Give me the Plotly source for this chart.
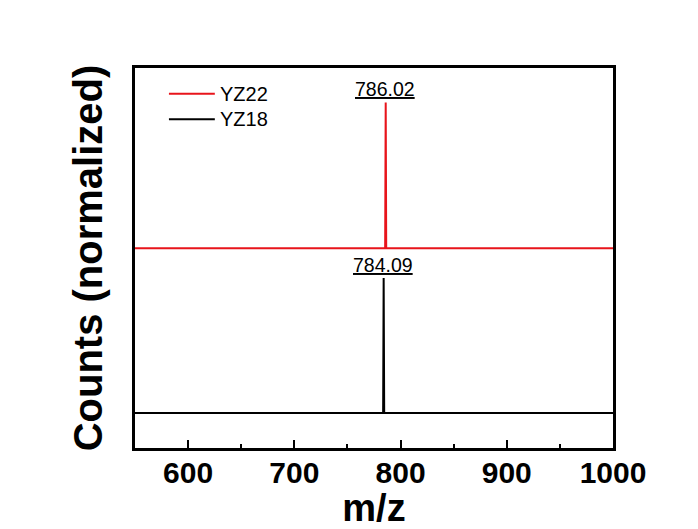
import plotly.graph_objects as go

# Spectrum data (m/z, normalized counts)
mz_min, mz_max = 550, 1000
yz18_mz = [550, 783.6, 784.09, 784.6, 1000]
yz18_counts = [0, 0, 1.0, 0, 0]
yz22_mz = [550, 785.5, 786.02, 786.5, 1000]
yz22_counts = [0, 0, 1.08, 0, 0]
yz22_offset = 1.22

series_names = ["YZ22", "YZ18"]
series_colors = ["#e8141b", "#000000"]
peak_labels = ["786.02", "784.09"]

FONT = "Liberation Sans, Arial, sans-serif"

fig = go.Figure()
fig.add_trace(go.Scatter(
    x=yz18_mz, y=yz18_counts, mode="lines", name=series_names[1],
    line=dict(color=series_colors[1], width=2), showlegend=False))
fig.add_trace(go.Scatter(
    x=yz22_mz, y=[v + yz22_offset for v in yz22_counts], mode="lines",
    name=series_names[0], line=dict(color=series_colors[0], width=2),
    showlegend=False))

# peak value labels (underlined)
for mz, counts, off, lab in [(yz22_mz[2], yz22_counts[2], yz22_offset, peak_labels[0]),
                             (yz18_mz[2], yz18_counts[2], 0, peak_labels[1])]:
    fig.add_annotation(x=mz, y=counts + off, text=f"<u>{lab}</u>", showarrow=False,
                       yanchor="bottom", yshift=0, xshift=-1,
                       font=dict(family=FONT, size=19.5, color="#000"))

# legend drawn as line samples + labels
legend_y = [0.932, 0.865]
for name, color, ly in zip(series_names, series_colors, legend_y):
    fig.add_shape(type="line", xref="paper", yref="paper",
                  x0=0.071, x1=0.167, y0=ly, y1=ly,
                  line=dict(color=color, width=2))
    fig.add_annotation(xref="paper", yref="paper", x=0.174, y=ly, text=name,
                       showarrow=False, xanchor="left", yanchor="middle",
                       font=dict(family=FONT, size=20, color="#000"))

fig.update_layout(
    width=698, height=529,
    margin=dict(l=135, r=85, t=68, b=81),
    paper_bgcolor="white", plot_bgcolor="white",
    font=dict(family=FONT, color="#000"),
)
fig.update_xaxes(
    range=[mz_min, mz_max], tickvals=[600, 700, 800, 900, 1000],
    ticks="inside", ticklen=8, tickwidth=2, tickcolor="#000",
    minor=dict(ticks="inside", ticklen=4, tickwidth=2, tickcolor="#000",
               tickvals=[650, 750, 850, 950]),
    showline=True, linecolor="#000", linewidth=2.5, mirror=True,
    showgrid=False, zeroline=False,
    ticklabelstandoff=-4,
    tickfont=dict(family=FONT, size=30, color="#000", weight="bold"),
    title=dict(text="m/z", font=dict(family=FONT, size=38, color="#000", weight="bold"),
               standoff=0),
)
fig.update_yaxes(
    range=[-0.26, 2.555], showticklabels=False, ticks="",
    showline=True, linecolor="#000", linewidth=2.5, mirror=True,
    showgrid=False, zeroline=False,
    title=dict(text="Counts (normalized)",
               font=dict(family=FONT, size=40, color="#000", weight="bold"),
               standoff=18),
)

fig.write_html("out.html")
